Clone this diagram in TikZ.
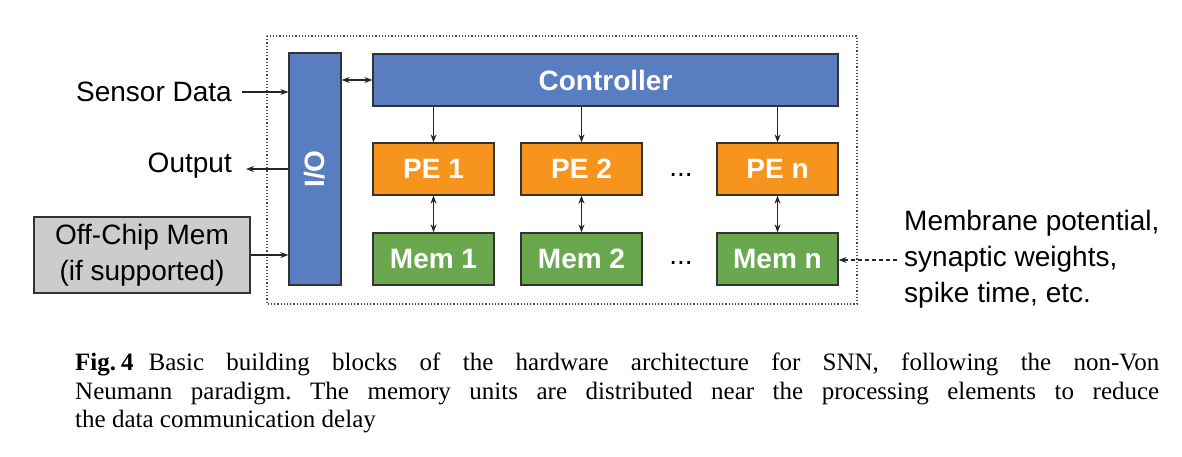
\documentclass[tikz,border=0pt]{standalone}
\usepackage{fontspec}
\setmainfont{Liberation Serif}
\newfontfamily\arialf{Liberation Sans}
\usetikzlibrary{arrows.meta}
\definecolor{ioblue}{HTML}{587DC0}
\definecolor{peorange}{HTML}{F7941E}
\definecolor{memgreen}{HTML}{6AA84F}
\definecolor{offgray}{HTML}{CCCCCC}
\definecolor{edge}{HTML}{333333}
\tikzset{
  blk/.style={draw=edge, line width=1.3pt, inner sep=0pt, text=white,
    font=\arialf\fontsize{28}{30}\selectfont\bfseries},
  lbl/.style={font=\arialf\fontsize{28}{34}\selectfont, inner sep=0pt, text=black},
  arr/.style={line width=1.1pt, draw=black!85, -{Stealth[length=8pt,width=6pt]}},
  darr/.style={line width=1.1pt, draw=black!85, {Stealth[length=8pt,width=6pt]}-{Stealth[length=8pt,width=6pt]}},
}
\begin{document}
\begin{tikzpicture}[x=1pt,y=-1pt]
\useasboundingbox (0,0) rectangle (1182,456);
\fill[white] (0,0) rectangle (1182,456);
% dotted frame
\draw[dotted, line width=1.2pt, black!70] (267,36) rectangle (857,304);
% I/O
\node[blk, fill=ioblue, minimum width=52pt, minimum height=232pt] (io) at (315,169) {};
\node[blk, draw=none, rotate=90] (iot) at (io.center) {I/O};
% controller
\node[blk, fill=ioblue, minimum width=465pt, minimum height=52pt] (ctrl) at (605.5,80) {Controller};
% PEs
\node[blk, fill=peorange, minimum width=121pt, minimum height=52pt] (pe1) at (433.5,169) {PE 1};
\node[blk, fill=peorange, minimum width=121pt, minimum height=52pt] (pe2) at (581.5,169) {PE 2};
\node[blk, fill=peorange, minimum width=121pt, minimum height=52pt] (pen) at (777.5,169) {PE n};
% Mems
\node[blk, fill=memgreen, minimum width=121pt, minimum height=52pt] (m1) at (433.5,259) {Mem 1};
\node[blk, fill=memgreen, minimum width=121pt, minimum height=52pt] (m2) at (581.5,259) {Mem 2};
\node[blk, fill=memgreen, minimum width=121pt, minimum height=52pt] (mn) at (777.5,259) {Mem n};
% dots
\node[lbl] (d1) at (681,175) {...};
\node[lbl] (d2) at (681,263) {...};
% arrows
\draw[darr] (io.east |- ctrl.west) -- (ctrl.west);
\foreach \p in {1,2,n}{
  \draw[arr] (ctrl.south -| pe\p.north) -- (pe\p.north);
  \draw[darr] (pe\p.south) -- (m\p.north);
}
% left side
\node[lbl, anchor=east] (sd) at (232,92) {Sensor Data};
\node[lbl, anchor=east] (out) at (232,166) {Output};
\node[draw=edge, line width=1.3pt, fill=offgray, minimum width=216pt, minimum height=76pt, align=center, font=\arialf\fontsize{28}{36}\selectfont, inner sep=0pt] (off) at (142,255) {Off-Chip Mem\\(if supported)};
\coordinate (sdA) at (242,92);
\coordinate (outA) at (246,169);
\draw[arr] (sdA) -- (sdA -| io.west);
\draw[arr] (outA -| io.west) -- (outA);
\draw[arr] (off.east) -- (off.east -| io.west);
% right side
\node[lbl, anchor=west, align=left, font=\arialf\fontsize{28}{36}\selectfont] (mp) at (904,259) {Membrane potential,\\synaptic weights,\\spike time, etc.};
\coordinate (mpA) at (897,260);
\draw[arr, dash pattern=on 4pt off 3pt] (mpA) -- (mn.east |- mpA);
% caption
\node[anchor=north west, inner sep=0pt, text width=1084pt, align=justify,
  font=\fontsize{25}{28.5}\selectfont\frenchspacing] (cap) at (75,352.8)
  {\mbox{\textbf{Fig.\kern0.2em4}}\hspace{0.6em}Basic building blocks of the hardware architecture for SNN, following the non-Von\linebreak Neumann paradigm. The memory units are distributed near the processing elements to reduce\linebreak the data communication delay};
\end{tikzpicture}
\end{document}
